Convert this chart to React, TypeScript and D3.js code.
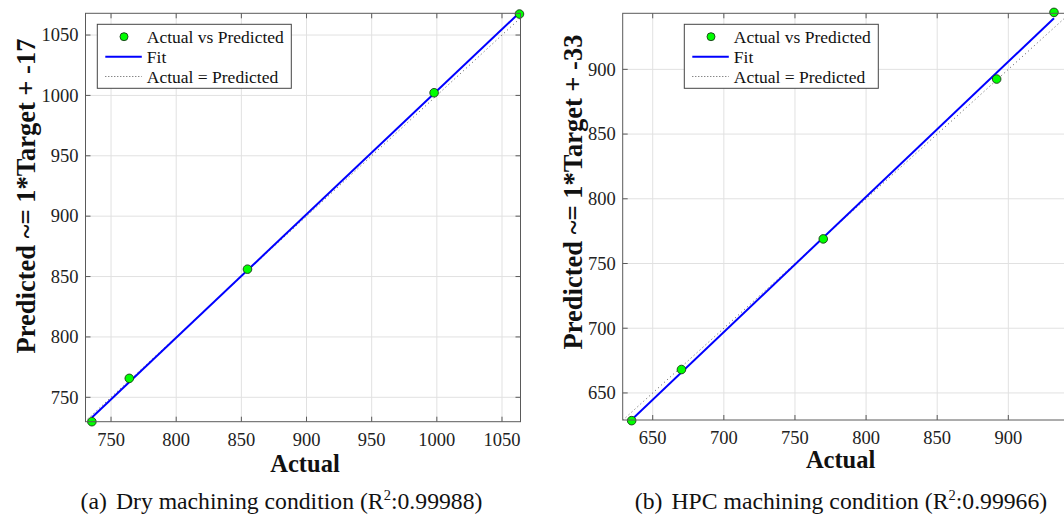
import React from 'react'
import * as d3 from 'd3'

// values
const dryActual = [735.3, 764.0, 854.7, 997.9, 1063.4]
const dryPredicted = [729.8, 765.7, 856.1, 1002.2, 1067.4]
const dryTicks = [750, 800, 850, 900, 950, 1000, 1050]

const hpcActual = [635.2, 670.2, 769.9, 891.8, 932.1]
const hpcPredicted = [628.6, 668.1, 769.0, 892.5, 944.0]
const hpcTicks = [650, 700, 750, 800, 850, 900]

const legendLabels = ['Actual vs Predicted', 'Fit', 'Actual = Predicted']

const FONT = '"Liberation Serif", "Times New Roman", serif'

type PanelProps = {
  id: string
  actual: number[]
  predicted: number[]
  ticks: number[]
  xDomain: [number, number]
  yDomain: [number, number]
  box: { x0: number; x1: number; y0: number; y1: number }
  legendX: number
  yTitle: string
  yTitleX: number
  yTitleY: number
  xTitleX: number
  xTitleY: number
  captionTag: string
  captionText: string
  r2: string
  captionX: number
}

function linFit(xs: number[], ys: number[]) {
  const mx = d3.mean(xs) as number
  const my = d3.mean(ys) as number
  let sxy = 0
  let sxx = 0
  xs.forEach((x, i) => {
    sxy += (x - mx) * (ys[i] - my)
    sxx += (x - mx) * (x - mx)
  })
  const slope = sxy / sxx
  return { slope, intercept: my - slope * mx }
}

function Panel(p: PanelProps) {
  const { box } = p
  const x = d3.scaleLinear().domain(p.xDomain).range([box.x0, box.x1])
  const y = d3.scaleLinear().domain(p.yDomain).range([box.y1, box.y0])
  const fit = linFit(p.actual, p.predicted)
  const fitX = d3.extent(p.actual) as [number, number]
  const line = d3.line<[number, number]>().x(d => x(d[0])).y(d => y(d[1]))
  const fitPath = line(fitX.map(v => [v, fit.slope * v + fit.intercept]))
  const lo = Math.min(p.xDomain[0], p.yDomain[0])
  const hi = Math.max(p.xDomain[1], p.yDomain[1])
  const idPath = line([[lo, lo], [hi, hi]])
  const tickLen = 5
  const axisColor = '#5a5a5a'
  const lx = p.legendX
  const ly = box.y0 + 11
  const lw = 194
  const lh = 64

  return (
    <g>
      <defs>
        <clipPath id={'clip-' + p.id}>
          <rect x={box.x0} y={box.y0} width={box.x1 - box.x0} height={box.y1 - box.y0} />
        </clipPath>
      </defs>
      <rect x={box.x0} y={box.y0} width={box.x1 - box.x0} height={box.y1 - box.y0} fill="#fff" />
      {/* grid */}
      {p.ticks.map(t => (
        <g key={'g' + t}>
          <line x1={x(t)} x2={x(t)} y1={box.y0} y2={box.y1} stroke="#e1e1e1" strokeWidth={1} />
          <line x1={box.x0} x2={box.x1} y1={y(t)} y2={y(t)} stroke="#e1e1e1" strokeWidth={1} />
        </g>
      ))}
      {/* ticks, inward on all four sides */}
      {p.ticks.map(t => (
        <g key={'t' + t} stroke={axisColor} strokeWidth={1}>
          <line x1={x(t)} x2={x(t)} y1={box.y1} y2={box.y1 - tickLen} />
          <line x1={x(t)} x2={x(t)} y1={box.y0} y2={box.y0 + tickLen} />
          <line x1={box.x0} x2={box.x0 + tickLen} y1={y(t)} y2={y(t)} />
          <line x1={box.x1} x2={box.x1 - tickLen} y1={y(t)} y2={y(t)} />
        </g>
      ))}
      <g clipPath={`url(#clip-${p.id})`}>
        <path d={idPath || ''} fill="none" stroke="#555" strokeWidth={1} strokeDasharray="1 3" />
        <path d={fitPath || ''} fill="none" stroke="#0000ff" strokeWidth={2} />
      </g>
      {p.actual.map((a, i) => (
        <circle key={'p' + i} cx={x(a)} cy={y(p.predicted[i])} r={4.3} fill="#00ff00" stroke="#1a3a1a" strokeWidth={0.9} />
      ))}
      <rect x={box.x0} y={box.y0} width={box.x1 - box.x0} height={box.y1 - box.y0} fill="none" stroke={axisColor} strokeWidth={1} />
      {/* tick labels */}
      {p.ticks.map(t => (
        <text key={'xl' + t} x={x(t)} y={box.y1 + 24} textAnchor="middle" fontSize={18.5} fontFamily={FONT} fill="#222">{t}</text>
      ))}
      {p.ticks.map(t => (
        <text key={'yl' + t} x={box.x0 - 7} y={y(t) + 6.3} textAnchor="end" fontSize={18.5} fontFamily={FONT} fill="#222">{t}</text>
      ))}
      {/* axis titles */}
      <text x={p.xTitleX} y={p.xTitleY} textAnchor="middle" fontSize={24.5} fontWeight="bold" fontFamily={FONT} fill="#111">Actual</text>
      <text transform={`translate(${p.yTitleX},${p.yTitleY}) rotate(-90)`} textAnchor="middle" fontSize={26.5} fontWeight="bold" fontFamily={FONT} fill="#111">{p.yTitle}</text>
      {/* legend */}
      <rect x={lx} y={ly} width={lw} height={lh} fill="#fff" stroke="#444" strokeWidth={1} />
      <circle cx={lx + 26.7} cy={ly + 12.4} r={4} fill="#00ff00" stroke="#1a3a1a" strokeWidth={0.9} />
      <line x1={lx + 8} x2={lx + 44.5} y1={ly + 32.4} y2={ly + 32.4} stroke="#0000ff" strokeWidth={2} />
      <line x1={lx + 8} x2={lx + 44.5} y1={ly + 52.2} y2={ly + 52.2} stroke="#555" strokeWidth={1} strokeDasharray="1 2" />
      {legendLabels.map((l, i) => (
        <text key={l} x={lx + 49.5} y={ly + 18.6 + i * 19.8} fontSize={17.5} fontFamily={FONT} fill="#111">{l}</text>
      ))}
      {/* caption */}
      <text x={p.captionX} y={509} textAnchor="middle" fontSize={23.7} fontFamily={FONT} fill="#111">
        {p.captionTag}
        <tspan dx={9}>{p.captionText} (R</tspan>
        <tspan fontSize={14.5} dy={-9.5}>2</tspan>
        <tspan dy={9.5}>:{p.r2})</tspan>
      </text>
    </g>
  )
}

export default function App() {
  return (
    <svg
      width={1064}
      height={521}
      style={{ position: 'absolute', left: 0, top: 0, background: '#fff', overflow: 'hidden' }}
    >
      <rect width={1064} height={521} fill="#fff" />
      <Panel
        id="dry"
        actual={dryActual}
        predicted={dryPredicted}
        ticks={dryTicks}
        xDomain={[730.4, 1064.2]}
        yDomain={[729.8, 1068]}
        box={{ x0: 85.5, x1: 520.5, y0: 13.3, y1: 421.7 }}
        legendX={97.3}
        yTitle="Predicted ~= 1*Target + -17"
        yTitleX={35}
        yTitleY={196}
        xTitleX={305}
        xTitleY={472}
        captionTag="(a)"
        captionText="Dry machining condition"
        r2="0.99988"
        captionX={281.5}
      />
      <Panel
        id="hpc"
        actual={hpcActual}
        predicted={hpcPredicted}
        ticks={hpcTicks}
        xDomain={[628.9, 943.5]}
        yDomain={[629.1, 943.3]}
        box={{ x0: 622.7, x1: 1070.2, y0: 13.3, y1: 420 }}
        legendX={684.3}
        yTitle="Predicted ~= 1*Target + -33"
        yTitleX={582}
        yTitleY={192}
        xTitleX={840.6}
        xTitleY={468}
        captionTag="(b)"
        captionText="HPC machining condition"
        r2="0.99966"
        captionX={841}
      />
    </svg>
  )
}
